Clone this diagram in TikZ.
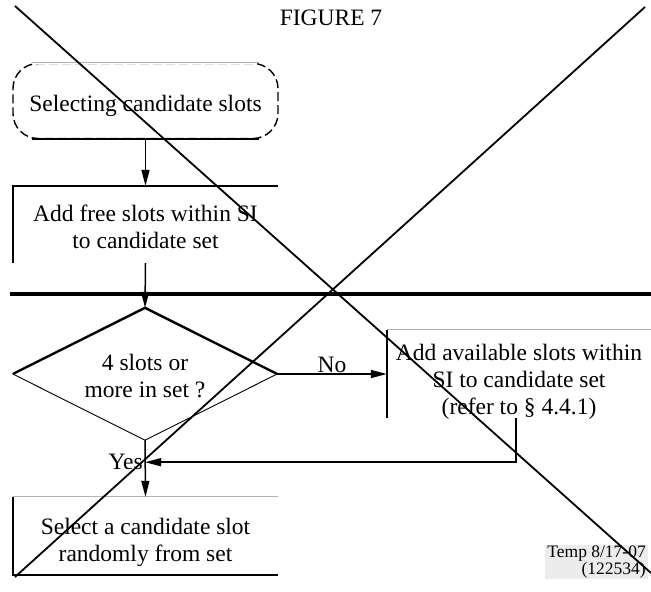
\documentclass[tikz,border=0pt]{standalone}
\usepackage{fontspec}
\setmainfont{Liberation Serif}
\usetikzlibrary{arrows.meta, calc}

\begin{document}
\begin{tikzpicture}[x=1pt, y=-1pt, >={Triangle[length=16pt,width=8pt]},
  every node/.style = {font=\fontsize{23.5}{27}\selectfont},
  frame/.style = {minimum width=265pt, inner sep=0pt},
  txt/.style = {inner sep=0pt, align=center},
  thin edge/.style = {draw=gray!60, line width=0.7pt},
  edge/.style = {line width=1.5pt},
  heavy/.style = {line width=2.4pt}]
\useasboundingbox (0,0) rectangle (651,592);
\node (title) at (331,18) {FIGURE 7};
\node[frame, minimum height=75pt, draw, line width=1.4pt, dash pattern=on 9pt off 4pt, rounded corners=25pt] (start) at (145.5,101) {};
\draw[white, line width=3pt] ([xshift=22pt]start.north west) -- ([xshift=-22pt]start.north east);
\draw[thin edge] ([xshift=20pt]start.north west) -- ([xshift=-20pt]start.north east);
\draw[heavy] ([xshift=20pt]start.south west) -- ([xshift=-20pt]start.south east);
\node[txt] (starttxt) at ([yshift=-5pt]start.center) {Selecting candidate slots};
\node[frame, minimum height=77pt] (add1) at (145.5,224.5) {};
\draw[edge] (add1.south west) -- (add1.north west) -- (add1.north east);
\node[txt] (add1txt) at ([yshift=-2pt]add1.center) {Add free slots within SI\\to candidate set};
\coordinate (barl) at (10,294);
\coordinate (barr) at (651,294);
\draw[line width=3.2pt] (barl) -- (barr);
\node[frame, minimum width=264pt, minimum height=132pt] (dec) at (145,374) {};
\draw[heavy] (dec.west) -- (dec.north) -- (dec.east);
\draw[line width=0.9pt] (dec.west) -- (dec.south) -- (dec.east);
\node[txt] (dectxt) at ([yshift=-2pt]dec.center) {4 slots or\\more in set ?};
\node[frame, minimum width=264pt, minimum height=88pt] (add2) at (519,374) {};
\draw[edge] (add2.south west) -- (add2.north west);
\draw[thin edge] (add2.north west) -- (add2.north east);
\node[txt] (add2txt) at ([yshift=-8pt]add2.center) {Add available slots within\\SI to candidate set\\(refer to \S\ 4.4.1)};
\node[frame, minimum height=78pt] (pick) at (145.5,536) {};
\draw[thin edge] (pick.north west) -- (pick.north east);
\draw[heavy] (pick.north west) -- (pick.south west) -- (pick.south east);
\node[txt] (picktxt) at ([yshift=-6pt]pick.center) {Select a candidate slot\\randomly from set};
\coordinate (join) at ($(dec.south)+(0,22)$);
\draw[->, edge] (start.south) -- (add1.north);
\draw[->, edge] (add1.south) -- (dec.north);
\draw[->, edge] (dec.east) -- (dec.east -| add2.west) node[midway, above, inner sep=1pt] (no) {No};
\draw[->, edge] ([xshift=-3pt]add2.south) |- (join);
\draw[->, edge] (dec.south) -- (pick.north);
\node[left, inner sep=2pt] (yes) at (join) {Yes};
\node[fill=gray!15, align=right, inner xsep=2pt, inner ysep=1pt, anchor=south east, font=\fontsize{17.5}{13}\selectfont] (temp) at (648,579) {Temp 8/17-07\\(122534)};
\coordinate (d1a) at (15,6);
\coordinate (d1b) at (651,573);
\coordinate (d2a) at (645,7);
\coordinate (d2b) at (15,577);
\draw[line width=1.8pt] (d1a) -- (d1b);
\draw[line width=1.8pt] (d2a) -- (d2b);
\end{tikzpicture}
\end{document}
